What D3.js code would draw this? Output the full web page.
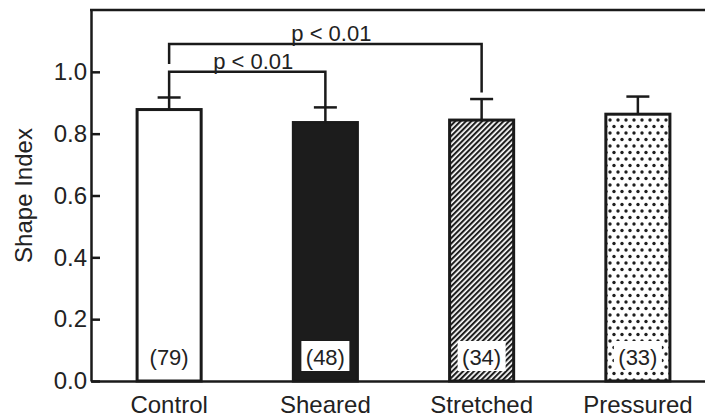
<!DOCTYPE html>
<html>
<head>
<meta charset="utf-8">
<script src="https://cdn.jsdelivr.net/npm/d3@7"></script>
<style>
    html, body { margin: 0; padding: 0; background: #fff; }
    #chart { width: 705px; height: 419px; }
    text { font-family: "Liberation Sans", Arial, sans-serif; fill: #222; }
</style>
</head>
<body>
<div id="chart"></div>
<script>
// Shape index bar graph with error bars and significance brackets

// Data
const categories = ["Control", "Sheared", "Stretched", "Pressured"];
const means = [0.878, 0.836, 0.844, 0.863];
const errors = [0.039, 0.049, 0.068, 0.057];
const counts = ["(79)", "(48)", "(34)", "(33)"];
const fills = ["white", "#1c1c1c", "url(#hatch)", "url(#dots)"];
const yTicks = [0, 0.2, 0.4, 0.6, 0.8, 1.0];

// Significance brackets: from, to, bracket level, left leg end, right leg end
const bracketFrom = ["Control", "Control"];
const bracketTo = ["Sheared", "Stretched"];
const bracketLevel = [1.0, 1.09];
const bracketLeftEnd = [0.917, 1.025];
const bracketRightEnd = [0.885, 0.933];
const bracketLabels = ["p < 0.01", "p < 0.01"];

function barGraph(div) {

    let cvs = d3.select(div);
    cvs.html(null);

    let width = 705,
        height = 419;
    let margin = { top: 10, left: 91, bottom: 38 };

    let svg = cvs.append("svg")
        .attr("width", width)
        .attr("height", height);

    // Fill patterns for the stretched and pressured bars
    let defs = svg.append("defs");
    let hatch = defs.append("pattern")
        .attr("id", "hatch")
        .attr("patternUnits", "userSpaceOnUse")
        .attr("width", 3.8).attr("height", 10)
        .attr("patternTransform", "rotate(45)");
    hatch.append("rect").attr("width", 3.8).attr("height", 10).attr("fill", "white");
    hatch.append("rect").attr("width", 2.1).attr("height", 10).attr("fill", "#1e1e1e");

    let dots = defs.append("pattern")
        .attr("id", "dots")
        .attr("patternUnits", "userSpaceOnUse")
        .attr("width", 8).attr("height", 13);
    dots.append("rect").attr("width", 8).attr("height", 13).attr("fill", "white");
    dots.append("circle").attr("cx", 2).attr("cy", 3).attr("r", 1.7).attr("fill", "#1e1e1e");
    dots.append("circle").attr("cx", 6).attr("cy", 9.5).attr("r", 1.7).attr("fill", "#1e1e1e");

    // Scales
    let x = d3.scaleBand()
        .domain(categories)
        .range([margin.left, 716])
        .paddingInner(0.59)
        .paddingOuter(0.295);
    let y = d3.scaleLinear()
        .domain([0, 1.2])
        .range([height - margin.bottom, margin.top]);

    let cx = function(c) { return x(c) + x.bandwidth() / 2; };

    // Bars
    for ( let i = 0; i < categories.length; ++i ) {
        svg.append("rect")
            .attr("x", x(categories[i]))
            .attr("y", y(means[i]))
            .attr("width", x.bandwidth())
            .attr("height", y(0) - y(means[i]))
            .attr("fill", fills[i])
            .attr("stroke", "#1a1a1a")
            .attr("stroke-width", 3);

        // Error bar (upper half only)
        let top = y(means[i] + errors[i]);
        svg.append("line")
            .attr("x1", cx(categories[i])).attr("x2", cx(categories[i]))
            .attr("y1", y(means[i])).attr("y2", top)
            .attr("stroke", "#1a1a1a").attr("stroke-width", 2.5);
        svg.append("line")
            .attr("x1", cx(categories[i]) - 11.5).attr("x2", cx(categories[i]) + 11.5)
            .attr("y1", top).attr("y2", top)
            .attr("stroke", "#1a1a1a").attr("stroke-width", 2.5);

        // Sample size, on a white box so the fill pattern does not cover it
        svg.append("rect")
            .attr("x", cx(categories[i]) - 24)
            .attr("y", 341)
            .attr("width", 48)
            .attr("height", 30)
            .attr("fill", "white");
        svg.append("text").text(counts[i])
            .attr("x", cx(categories[i]))
            .attr("y", 365)
            .attr("text-anchor", "middle")
            .style("font-size", "22px");
    }

    // Significance brackets
    for ( let i = 0; i < bracketLabels.length; ++i ) {
        let x1 = cx(bracketFrom[i]),
            x2 = cx(bracketTo[i]),
            yl = y(bracketLevel[i]);
        svg.append("path")
            .attr("d", "M" + x1 + "," + y(bracketLeftEnd[i]) + "V" + yl +
                       "H" + x2 + "V" + y(bracketRightEnd[i]))
            .attr("fill", "none")
            .attr("stroke", "#1a1a1a")
            .attr("stroke-width", 2.5);
        svg.append("text").text(bracketLabels[i])
            .attr("x", (x1 + x2) / 2 + 6)
            .attr("y", yl - 3)
            .attr("text-anchor", "middle")
            .style("font-size", "22px");
    }

    // Y axis with inward ticks
    let yAxis = svg.append("g")
        .attr("transform", "translate(" + margin.left + ",0)")
        .call(d3.axisLeft(y)
            .tickValues(yTicks)
            .tickFormat(d3.format(".1f"))
            .tickSizeInner(-9)
            .tickSizeOuter(0)
            .tickPadding(4));
    yAxis.selectAll("path, line").attr("stroke", "#1a1a1a").attr("stroke-width", 2.5);
    yAxis.selectAll("text").style("font-size", "24px").attr("fill", "#222");

    // X axis with category labels, no ticks
    let xAxis = svg.append("g")
        .attr("transform", "translate(0," + y(0) + ")")
        .call(d3.axisBottom(x).tickSize(0).tickPadding(15));
    xAxis.select(".domain").attr("stroke", "#1a1a1a").attr("stroke-width", 2.5);
    xAxis.selectAll("text").style("font-size", "24px").attr("fill", "#222");

    // Top frame line
    svg.append("line")
        .attr("x1", margin.left - 1).attr("x2", width)
        .attr("y1", y(1.2)).attr("y2", y(1.2))
        .attr("stroke", "#1a1a1a")
        .attr("stroke-width", 2.5);

    // Y axis title
    svg.append("text").text("Shape Index")
        .attr("transform", "translate(32," + y(0.6) + ") rotate(-90)")
        .attr("text-anchor", "middle")
        .style("font-size", "24px");
}

barGraph("#chart");
</script>
</body>
</html>
